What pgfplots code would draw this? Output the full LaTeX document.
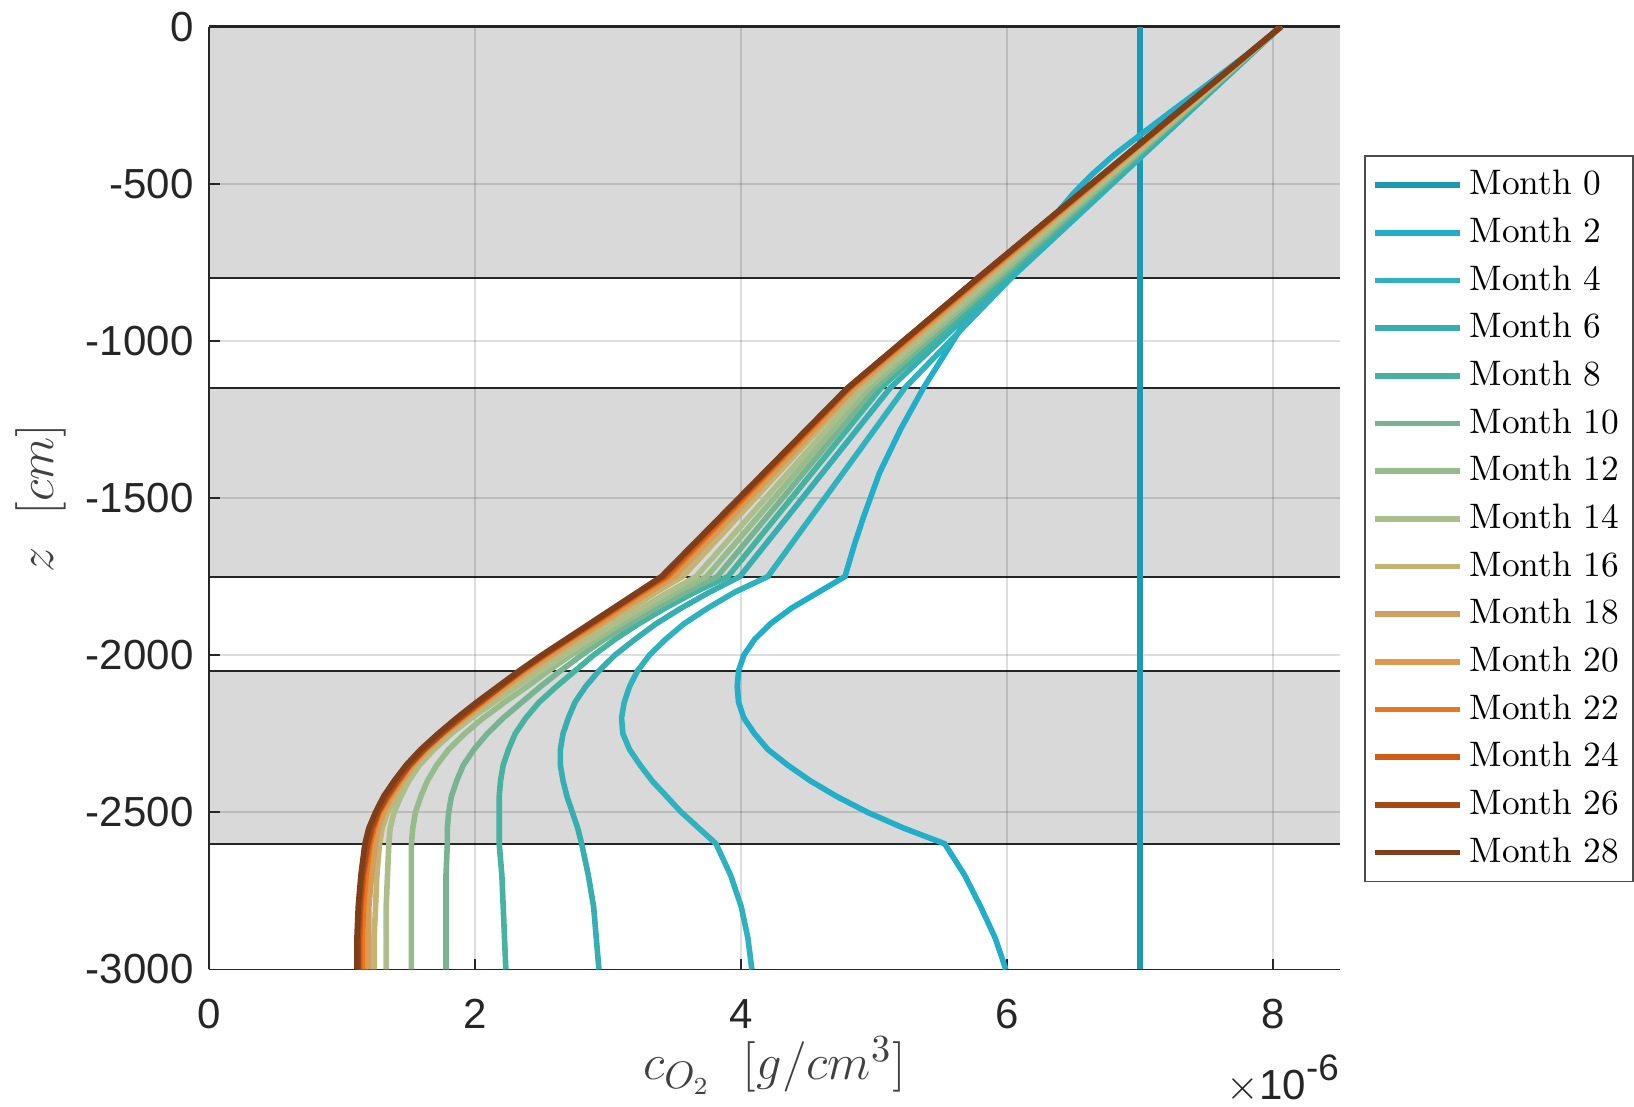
\documentclass[border=0pt]{standalone}
\usepackage{fontspec}
\usepackage{pgfplots}
\pgfplotsset{compat=1.18}
\newfontfamily\arial{Liberation Sans}
\definecolor{bandgray}{RGB}{217,217,217}
\definecolor{axgray}{RGB}{38,38,38}
\definecolor{c0}{RGB}{27,152,178}
\definecolor{c2}{RGB}{33,174,200}
\definecolor{c4}{RGB}{45,178,190}
\definecolor{c6}{RGB}{55,174,178}
\definecolor{c8}{RGB}{70,178,160}
\definecolor{c10}{RGB}{120,180,145}
\definecolor{c12}{RGB}{150,188,140}
\definecolor{c14}{RGB}{172,190,140}
\definecolor{c16}{RGB}{195,180,115}
\definecolor{c18}{RGB}{210,158,95}
\definecolor{c20}{RGB}{218,155,80}
\definecolor{c22}{RGB}{236,118,28}
\definecolor{c24}{RGB}{210,92,22}
\definecolor{c26}{RGB}{168,72,20}
\definecolor{c28}{RGB}{125,62,25}
\begin{document}
\begin{tikzpicture}
\begin{axis}[
  name=ax,
  set layers,
  scale only axis,
  width=113.4mm, height=94.6mm,
  xmin=0, xmax=8.5, ymin=-3000, ymax=0,
  axis x line*=bottom, axis y line*=left,
  axis line style={axgray, line width=0.5pt},
  tick align=inside,
  major tick length=3pt,
  tick style={axgray, line width=0.5pt},
  xtick={0,2,4,6,8},
  xticklabels={0,2,4,6,8},
  ytick={-3000,-2500,-2000,-1500,-1000,-500,0},
  yticklabels={-3000,-2500,-2000,-1500,-1000,-500,0},
  ticklabel style={font=\arial\fontsize{12}{14}\selectfont, text=axgray},
  xticklabel style={yshift=-5pt},
  yticklabel style={xshift=-1pt},
  grid=major,
  major grid style={black, opacity=0.13, line width=0.5pt},
  xlabel={$c_{O_2}\ \ [g/cm^3]$},
  ylabel={$z\ \ [cm]$},
  label style={font=\fontsize{15}{18}\selectfont, text=black!75},
  xlabel style={at={(axis description cs:0.5,-0.102)}, anchor=center},
  ylabel style={at={(axis description cs:-0.149,0.5)}, anchor=center, rotate=0},
  every axis plot/.append style={line width=1.6pt},
  legend style={at={(1.022,0.8635)}, anchor=north west, draw=black!70, fill=white,
    font=\fontsize{10.1}{12}\selectfont, row sep=1.1pt, line width=0.5pt,
    inner xsep=2pt},
  legend cell align=left,
  legend image code/.code={\draw[#1] (0cm,0cm) -- (0.85cm,0cm);},
]
% shaded layers
\addplot[forget plot, on layer=axis background, fill=bandgray, draw=none, line width=0pt] coordinates {(0,0) (8.5,0) (8.5,-800) (0,-800)} -- cycle;
\addplot[forget plot, on layer=axis background, fill=bandgray, draw=none, line width=0pt] coordinates {(0,-1150) (8.5,-1150) (8.5,-1750) (0,-1750)} -- cycle;
\addplot[forget plot, on layer=axis background, fill=bandgray, draw=none, line width=0pt] coordinates {(0,-2050) (8.5,-2050) (8.5,-2600) (0,-2600)} -- cycle;
\addplot[forget plot, on layer=axis background, black!85, line width=0.6pt] coordinates {(0,0) (8.5,0)};
\addplot[forget plot, on layer=axis background, black!85, line width=0.6pt] coordinates {(0,-800) (8.5,-800)};
\addplot[forget plot, on layer=axis background, black!85, line width=0.6pt] coordinates {(0,-1150) (8.5,-1150)};
\addplot[forget plot, on layer=axis background, black!85, line width=0.6pt] coordinates {(0,-1750) (8.5,-1750)};
\addplot[forget plot, on layer=axis background, black!85, line width=0.6pt] coordinates {(0,-2050) (8.5,-2050)};
\addplot[forget plot, on layer=axis background, black!85, line width=0.6pt] coordinates {(0,-2600) (8.5,-2600)};
% Month 0
\addplot[c0] coordinates {(7.0,0) (7.0,-3000)};
\addlegendentry{Month 0}
% Month 2
\addplot[c2] coordinates {(8.06,0) (7.8,-90) (7.52,-180) (7.25,-265) (7.0,-345) (6.8,-410) (6.64,-470) (6.5,-530) (6.38,-590) (6.2,-690) (6.02,-800) (5.65,-962) (5.37,-1150) (5.2,-1280) (5.04,-1420) (4.92,-1560) (4.85,-1650) (4.78,-1750) (4.58,-1800) (4.38,-1850) (4.22,-1900) (4.10,-1950) (4.02,-2000) (3.98,-2050) (3.97,-2100) (3.98,-2150) (4.02,-2200) (4.10,-2250) (4.20,-2300) (4.35,-2350) (4.52,-2400) (4.72,-2450) (4.95,-2500) (5.22,-2550) (5.53,-2600) (5.68,-2700) (5.80,-2800) (5.91,-2900) (5.99,-3000)};
\addlegendentry{Month 2}
% Month 4
\addplot[c4] coordinates {(8.06,0) (6.03,-800) (5.23,-1150) (4.20,-1750) (3.95,-1800) (3.75,-1850) (3.57,-1900) (3.43,-1950) (3.31,-2000) (3.22,-2050) (3.16,-2100) (3.12,-2150) (3.10,-2200) (3.11,-2250) (3.16,-2300) (3.24,-2350) (3.33,-2400) (3.44,-2450) (3.55,-2500) (3.68,-2550) (3.81,-2600) (3.92,-2700) (4.00,-2800) (4.05,-2900) (4.08,-3000)};
\addlegendentry{Month 4}
% Month 6
\addplot[c6] coordinates {(8.06,0) (6.00,-800) (5.12,-1150) (3.99,-1750) (3.76,-1800) (3.55,-1850) (3.36,-1900) (3.20,-1950) (3.05,-2000) (2.93,-2050) (2.83,-2100) (2.75,-2150) (2.70,-2200) (2.66,-2250) (2.64,-2300) (2.64,-2350) (2.66,-2400) (2.69,-2450) (2.73,-2500) (2.77,-2550) (2.80,-2600) (2.85,-2700) (2.89,-2800) (2.91,-2900) (2.93,-3000)};
\addlegendentry{Month 6}
% Month 8
\addplot[c8] coordinates {(8.06,0) (5.97,-800) (5.05,-1150) (3.90,-1750) (3.65,-1800) (3.43,-1850) (3.23,-1900) (3.05,-1950) (2.89,-2000) (2.75,-2050) (2.61,-2100) (2.48,-2150) (2.38,-2200) (2.30,-2250) (2.25,-2300) (2.21,-2350) (2.19,-2400) (2.18,-2450) (2.18,-2500) (2.18,-2550) (2.18,-2600) (2.20,-2700) (2.21,-2800) (2.22,-2900) (2.23,-3000)};
\addlegendentry{Month 8}
% Month 10
\addplot[c10] coordinates {(8.06,0) (5.94,-800) (5.00,-1150) (3.82,-1750) (3.58,-1800) (3.36,-1850) (3.16,-1900) (2.97,-1950) (2.80,-2000) (2.64,-2050) (2.49,-2100) (2.35,-2150) (2.21,-2200) (2.09,-2250) (1.99,-2300) (1.91,-2350) (1.86,-2400) (1.82,-2450) (1.80,-2500) (1.79,-2550) (1.79,-2600) (1.78,-2700) (1.78,-2800) (1.78,-2900) (1.78,-3000)};
\addlegendentry{Month 10}
% Month 12
\addplot[c12] coordinates {(8.06,0) (5.91,-800) (4.96,-1150) (3.74,-1750) (3.51,-1800) (3.30,-1850) (3.10,-1900) (2.91,-1950) (2.72,-2000) (2.55,-2050) (2.39,-2100) (2.22,-2150) (2.06,-2200) (1.92,-2250) (1.80,-2300) (1.71,-2350) (1.64,-2400) (1.59,-2450) (1.55,-2500) (1.53,-2550) (1.52,-2600) (1.52,-2700) (1.52,-2800) (1.52,-2900) (1.52,-3000)};
\addlegendentry{Month 12}
% Month 14
\addplot[c14] coordinates {(8.06,0) (5.88,-800) (4.92,-1150) (3.66,-1750) (3.45,-1800) (3.25,-1850) (3.05,-1900) (2.86,-1950) (2.67,-2000) (2.49,-2050) (2.31,-2100) (2.14,-2150) (1.97,-2200) (1.82,-2250) (1.69,-2300) (1.58,-2350) (1.50,-2400) (1.44,-2450) (1.39,-2500) (1.36,-2550) (1.35,-2600) (1.34,-2700) (1.33,-2800) (1.33,-2900) (1.33,-3000)};
\addlegendentry{Month 14}
% Month 16
\addplot[c16] coordinates {(8.06,0) (5.84,-800) (4.87,-1150) (3.56,-1750) (3.36,-1800) (3.17,-1850) (2.97,-1900) (2.79,-1950) (2.60,-2000) (2.43,-2050) (2.26,-2100) (2.10,-2150) (1.93,-2200) (1.79,-2250) (1.66,-2300) (1.55,-2350) (1.46,-2400) (1.40,-2450) (1.34,-2500) (1.30,-2550) (1.28,-2600) (1.26,-2700) (1.25,-2800) (1.24,-2900) (1.24,-3000)};
\addlegendentry{Month 16}
% Month 18
\addplot[c18] coordinates {(8.06,0) (5.82,-800) (4.85,-1150) (3.50,-1750) (3.31,-1800) (3.12,-1850) (2.94,-1900) (2.75,-1950) (2.57,-2000) (2.39,-2050) (2.23,-2100) (2.07,-2150) (1.92,-2200) (1.77,-2250) (1.64,-2300) (1.53,-2350) (1.45,-2400) (1.37,-2450) (1.31,-2500) (1.27,-2550) (1.25,-2600) (1.22,-2700) (1.20,-2800) (1.20,-2900) (1.20,-3000)};
\addlegendentry{Month 18}
% Month 20
\addplot[c20] coordinates {(8.06,0) (5.81,-800) (4.83,-1150) (3.47,-1750) (3.28,-1800) (3.10,-1850) (2.92,-1900) (2.73,-1950) (2.55,-2000) (2.37,-2050) (2.22,-2100) (2.06,-2150) (1.91,-2200) (1.76,-2250) (1.63,-2300) (1.52,-2350) (1.43,-2400) (1.36,-2450) (1.30,-2500) (1.25,-2550) (1.23,-2600) (1.20,-2700) (1.18,-2800) (1.17,-2900) (1.17,-3000)};
\addlegendentry{Month 20}
% Month 22
\addplot[c22] coordinates {(8.06,0) (5.80,-800) (4.82,-1150) (3.45,-1750) (3.26,-1800) (3.08,-1850) (2.90,-1900) (2.71,-1950) (2.53,-2000) (2.36,-2050) (2.20,-2100) (2.05,-2150) (1.90,-2200) (1.75,-2250) (1.62,-2300) (1.51,-2350) (1.43,-2400) (1.35,-2450) (1.28,-2500) (1.24,-2550) (1.21,-2600) (1.18,-2700) (1.16,-2800) (1.15,-2900) (1.15,-3000)};
\addlegendentry{Month 22}
% Month 24
\addplot[c24] coordinates {(8.06,0) (5.79,-800) (4.81,-1150) (3.43,-1750) (3.24,-1800) (3.06,-1850) (2.88,-1900) (2.70,-1950) (2.52,-2000) (2.35,-2050) (2.19,-2100) (2.04,-2150) (1.89,-2200) (1.75,-2250) (1.62,-2300) (1.51,-2350) (1.42,-2400) (1.34,-2450) (1.27,-2500) (1.23,-2550) (1.20,-2600) (1.16,-2700) (1.14,-2800) (1.13,-2900) (1.13,-3000)};
\addlegendentry{Month 24}
% Month 26
\addplot[c26] coordinates {(8.06,0) (5.78,-800) (4.80,-1150) (3.41,-1750) (3.23,-1800) (3.05,-1850) (2.87,-1900) (2.69,-1950) (2.51,-2000) (2.34,-2050) (2.19,-2100) (2.03,-2150) (1.88,-2200) (1.74,-2250) (1.61,-2300) (1.50,-2350) (1.41,-2400) (1.33,-2450) (1.27,-2500) (1.22,-2550) (1.19,-2600) (1.15,-2700) (1.13,-2800) (1.12,-2900) (1.12,-3000)};
\addlegendentry{Month 26}
% Month 28
\addplot[c28] coordinates {(8.06,0) (5.78,-800) (4.80,-1150) (3.40,-1750) (3.22,-1800) (3.04,-1850) (2.86,-1900) (2.68,-1950) (2.50,-2000) (2.33,-2050) (2.17,-2100) (2.01,-2150) (1.86,-2200) (1.72,-2250) (1.59,-2300) (1.48,-2350) (1.39,-2400) (1.31,-2450) (1.25,-2500) (1.20,-2550) (1.17,-2600) (1.14,-2700) (1.12,-2800) (1.11,-2900) (1.11,-3000)};
\addlegendentry{Month 28}
\end{axis}
\node[anchor=east, inner sep=0pt, font=\arial\fontsize{12}{14}\selectfont, text=axgray] at ([yshift=-11.0mm]ax.south east) {$\times$10\raisebox{0.85ex}{\fontsize{10.5}{12}\selectfont -6}};
\path ([shift={(-21.0mm,-13.4mm)}]ax.south west) ([shift={(0mm,1.98mm)}]ax.north east);
\end{tikzpicture}
\end{document}
